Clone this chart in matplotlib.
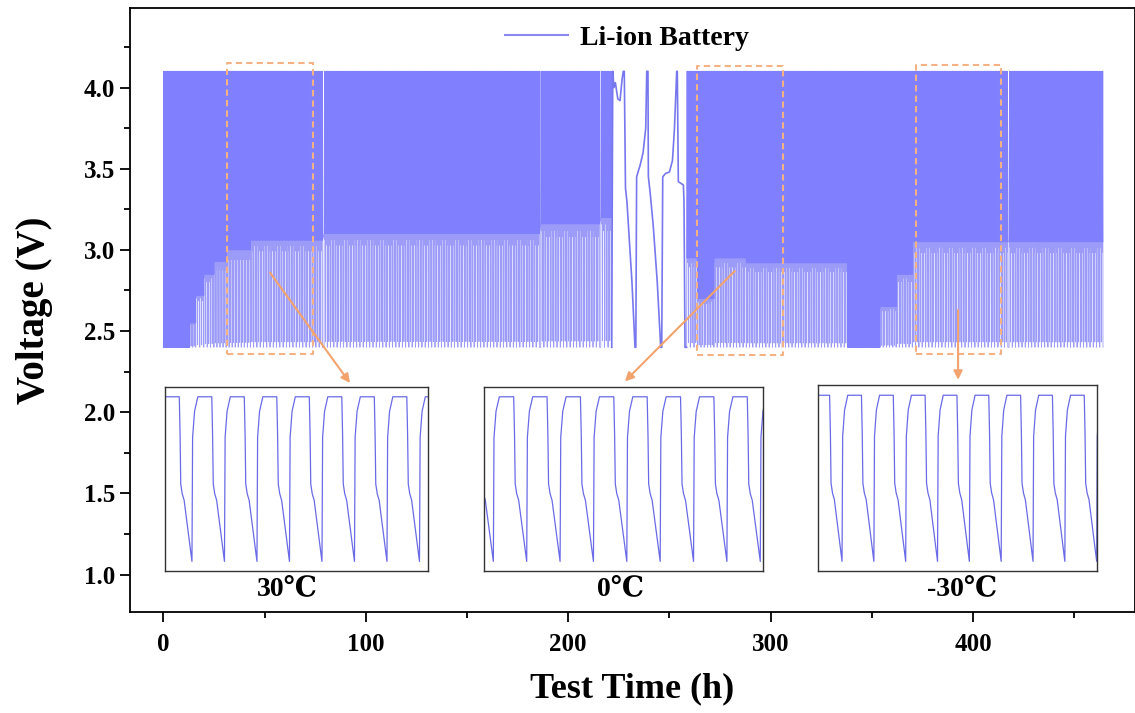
import numpy as np
import matplotlib
matplotlib.use("Agg")
import matplotlib.pyplot as plt

plt.rcParams["font.family"] = ["Liberation Serif", "DejaVu Serif"]
plt.rcParams["font.weight"] = "bold"
plt.rcParams["path.simplify"] = False

# --- dense cycling blocks: start (h), end (h), knee voltage where the trace turns steep
block_start = [0.0, 13.0, 16.0, 20.0, 25.0, 31.0, 43.0, 79.4, 186.4, 216.1,
               258.5, 264.0, 272.0, 288.0, 338.0, 354.0, 362.0, 370.0, 417.8]
block_end = [13.0, 16.0, 20.0, 25.0, 31.0, 43.0, 78.6, 185.8, 215.5, 221.5,
             264.0, 272.0, 288.0, 338.0, 354.0, 362.0, 370.0, 417.2, 464.2]
block_knee = [2.40, 2.55, 2.72, 2.85, 2.93, 3.00, 3.06, 3.10, 3.16, 3.20,
              2.95, 2.70, 2.95, 2.92, 2.40, 2.65, 2.85, 3.05, 3.05]
cycle_period = 1.6
v_top, v_floor = 4.1, 2.4

# one cycle of the dense trace: phase and level
# level >= 0: fraction from knee up to 4.1 V; level < 0: fraction from knee down to floor
cycle_phase = [0.00, 0.03, 0.12, 0.18, 0.26, 0.34, 0.42, 0.47, 0.52,
               0.60, 0.68, 0.76, 0.84, 0.90, 0.96, 0.985]
cycle_level = [-1.0, 0.05, 1.00, 1.00, -0.05, 1.00, 0.05, -0.95, 0.00,
               1.00, -0.10, 1.00, 0.00, 1.00, 0.02, -1.0]

# slow cycles in the middle of the test
slow_t = [221.5, 222.0, 222.6, 223.3, 224.5, 225.6, 226.6, 227.2, 227.7, 228.3, 229.0,
          230.0, 231.5, 233.0, 233.4, 233.8, 234.5, 235.5, 237.0, 238.3, 238.8, 239.4,
          239.6, 240.5, 242.0, 244.0, 245.7, 246.2, 246.7, 248.0, 250.0, 251.5, 252.5,
          253.6, 253.9, 254.4, 256.9, 257.2, 257.7, 258.5]
slow_v = [2.40, 4.10, 4.00, 4.03, 3.93, 3.92, 4.05, 4.10, 4.10, 3.38, 3.30,
          3.10, 2.80, 2.40, 2.40, 3.45, 3.48, 3.52, 3.60, 3.75, 4.10, 4.10,
          3.45, 3.35, 3.15, 2.80, 2.40, 2.40, 3.45, 3.47, 3.48, 3.55, 3.75,
          4.10, 4.10, 3.42, 3.40, 3.30, 2.40, 2.40]

# zoomed insets
inset_labels = ["30\u2103", "0\u2103", "-30\u2103"]
inset_x0 = [0.8, 158.4, 323.4]
inset_x1 = [130.7, 296.2, 461.3]
inset_y0 = [1.02, 1.02, 1.02]
inset_y1 = [2.155, 2.155, 2.165]
inset_start_phase = [0.17, 0.72, 0.245]
inset_n_cycles = [8.09, 8.36, 8.77]
inset_label_x = [61.0, 226.0, 394.5]
inset_phase = [0.00, 0.02, 0.08, 0.18, 0.61, 0.635, 0.655, 0.70, 0.76]
inset_volt = [2.40, 3.68, 3.95, 4.10, 4.10, 3.70, 3.20, 3.10, 3.03]

# dashed selection boxes and arrows
box_x0 = [31.4, 263.6, 371.8]
box_x1 = [73.9, 306.1, 413.8]
box_y0 = [2.36, 2.35, 2.36]
box_y1 = [4.15, 4.13, 4.14]
arrow_from = [(52.7, 2.86), (282.3, 2.87), (392.6, 2.63)]
arrow_to = [(92.2, 2.18), (228.0, 2.19), (392.6, 2.20)]

blue = "#8080ff"
light_blue = "#9c9cf8"
orange = "#f4b183"


def tile_cycles(t0, t1, knee):
    n = max(1, int(round((t1 - t0) / cycle_period)))
    period = (t1 - t0) / n
    ph = np.array(cycle_phase)
    lv = np.array(cycle_level)
    v = np.where(lv < 0, knee + lv * (knee - v_floor), knee + lv * (v_top - knee))
    ts, vs, ks = [], [], []
    for k in range(n):
        ts.append(t0 + (k + ph) * period)
        vs.append(v)
        ks.append(np.full(len(ph), knee))
    return np.concatenate(ts), np.concatenate(vs), np.concatenate(ks)


fig = plt.figure(figsize=(11.35, 7.13), dpi=100)
ax = fig.add_axes([0.1145, 0.1417, 0.8855, 0.8471])

# dense trace: contiguous blocks are joined into runs
runs = []
for s, e, k in zip(block_start, block_end, block_knee):
    t, v, kn = tile_cycles(s, e, k)
    if runs and abs(runs[-1][0][-1] - s) < 1.0:
        runs[-1] = tuple(np.concatenate([a, b]) for a, b in zip(runs[-1], (t, v, kn)))
    else:
        runs.append((t, v, kn))
for i, (t, v, kn) in enumerate(runs):
    # faint tails below the knee, dense body above it
    ax.plot(t, v, color=light_blue, lw=0.6, solid_joinstyle="round")
    ax.plot(t, np.maximum(v, kn), color=blue, lw=0.6, solid_joinstyle="round",
            label="Li-ion Battery" if i == 0 else None)
ax.plot(slow_t, slow_v, color="#7777ee", lw=1.2)

# dashed boxes and arrows
for x0, x1, y0, y1 in zip(box_x0, box_x1, box_y0, box_y1):
    ax.plot([x0, x1, x1, x0, x0], [y0, y0, y1, y1, y0], color=orange,
            lw=1.5, ls=(0, (3, 2)))
for a, b in zip(arrow_from, arrow_to):
    ax.annotate("", xy=b, xytext=a,
                arrowprops=dict(arrowstyle="-|>", color="#f2a36e", lw=1.5,
                                mutation_scale=13, shrinkA=0, shrinkB=0))

# insets
for i in range(3):
    iax = ax.inset_axes([inset_x0[i], inset_y0[i], inset_x1[i] - inset_x0[i],
                         inset_y1[i] - inset_y0[i]], transform=ax.transData)
    s0 = inset_start_phase[i]
    s1 = s0 + inset_n_cycles[i]
    ts, vs = [], []
    for k in range(int(np.floor(s0)) - 1, int(np.ceil(s1)) + 1):
        ts.extend(k + p for p in inset_phase)
        vs.extend(inset_volt)
    iax.plot(ts, vs, color="#6a6ae6", lw=0.9)
    iax.set_xlim(s0, s1)
    iax.set_ylim(2.297, 4.2)
    iax.set_xticks([])
    iax.set_yticks([])
    for sp in iax.spines.values():
        sp.set_color("#333333")
        sp.set_linewidth(1.0)
    ax.text(inset_label_x[i], 0.915, inset_labels[i], ha="center", va="center",
            fontsize=20, fontweight="bold")

ax.set_xlim(-16.5, 480)
ax.set_ylim(0.77, 4.49)
ax.set_xticks([0, 100, 200, 300, 400])
ax.set_xticks([50, 150, 250, 350, 450], minor=True)
ax.set_yticks([1.0, 1.5, 2.0, 2.5, 3.0, 3.5, 4.0])
ax.set_yticks([1.25, 1.75, 2.25, 2.75, 3.25, 3.75, 4.25], minor=True)
ax.yaxis.set_major_formatter(matplotlib.ticker.FormatStrFormatter("%.1f"))
ax.tick_params(which="major", direction="out", length=7, width=1.3, labelsize=18)
ax.tick_params(which="minor", direction="out", length=4, width=1.3)
ax.tick_params(axis="x", pad=8)
for sp in ax.spines.values():
    sp.set_linewidth(1.3)
ax.set_xlabel("Test Time (h)", fontsize=26, fontweight="bold", labelpad=12)
ax.set_ylabel("Voltage (V)", fontsize=28, fontweight="bold", labelpad=22)

leg = ax.legend(loc="center", bbox_to_anchor=(0.494, 0.95), frameon=False,
                fontsize=20, handlelength=2.3, handletextpad=0.4)
for line in leg.get_lines():
    line.set_linewidth(1.5)
    line.set_color("#8888ee")

fig.savefig("out.png", dpi=100)
